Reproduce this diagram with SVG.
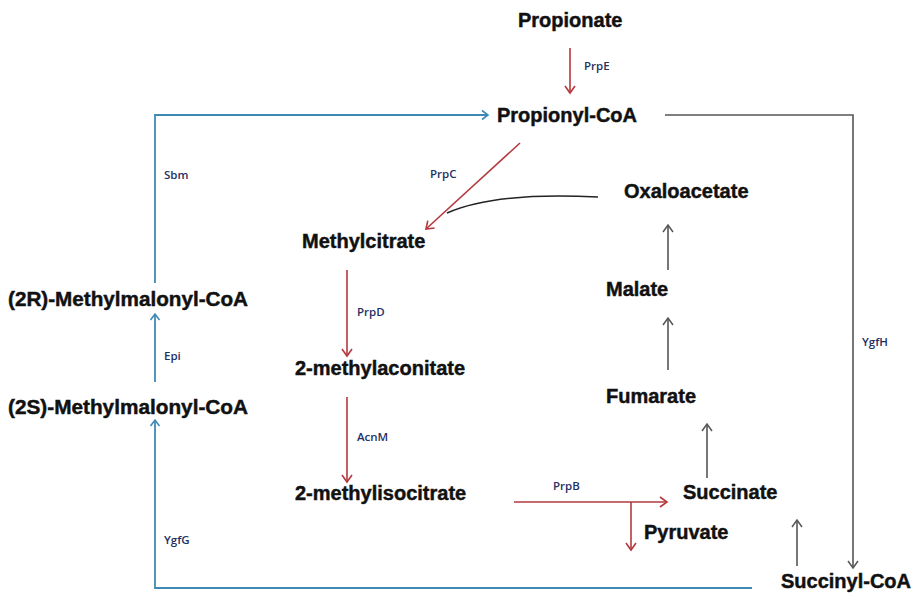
<svg xmlns="http://www.w3.org/2000/svg" width="914" height="594" viewBox="0 0 914 594">
  <style>
    .node { font-family: "Liberation Sans", Arial, sans-serif; font-weight: bold; font-size: 20px; fill: #111; stroke: #111; stroke-width: 0.45; }
    .enz { font-family: "Open Sans", "Liberation Sans", sans-serif; font-weight: 600; font-size: 11.5px; fill: #1f3064; }
    .red { fill: none; stroke: #b5393f; stroke-width: 1.6; }
    .blue { fill: none; stroke: #3f8ab5; stroke-width: 1.8; }
    .gray { fill: none; stroke: #555; stroke-width: 1.6; }
    .blk { fill: none; stroke: #222; stroke-width: 1.5; }
  </style>
  <defs>
    <marker id="ah-red" markerUnits="userSpaceOnUse" markerWidth="12" markerHeight="12" refX="9" refY="6" orient="auto">
      <path d="M2,1 L9,6 L2,11" fill="none" stroke="#b5393f" stroke-width="1.6"/>
    </marker>
    <marker id="ah-blue" markerUnits="userSpaceOnUse" markerWidth="12" markerHeight="12" refX="9" refY="6" orient="auto">
      <path d="M3,1.5 L9,6 L3,10.5" fill="none" stroke="#3f8ab5" stroke-width="1.6"/>
    </marker>
    <marker id="ah-gray" markerUnits="userSpaceOnUse" markerWidth="12" markerHeight="12" refX="9" refY="6" orient="auto">
      <path d="M2,1 L9,6 L2,11" fill="none" stroke="#555" stroke-width="1.5"/>
    </marker>
  </defs>
  <rect width="914" height="594" fill="#fff"/>

  <g id="connectors">
    <!-- methylcitrate cycle (red) -->
    <line class="red" x1="570" y1="48" x2="570" y2="93" marker-end="url(#ah-red)"/>
    <line class="red" x1="520" y1="143" x2="426" y2="229" marker-end="url(#ah-red)"/>
    <line class="red" x1="347" y1="270" x2="347" y2="356" marker-end="url(#ah-red)"/>
    <line class="red" x1="347" y1="397" x2="347" y2="482" marker-end="url(#ah-red)"/>
    <line class="red" x1="514" y1="502" x2="667" y2="502" marker-end="url(#ah-red)"/>
    <line class="red" x1="631" y1="502" x2="631" y2="550" marker-end="url(#ah-red)"/>
    <!-- oxaloacetate joins at methylcitrate synthase -->
    <path class="blk" d="M598,197 C540,194 485,196 447,213"/>
    <!-- TCA steps (gray) -->
    <line class="gray" x1="668" y1="270" x2="668" y2="225" marker-end="url(#ah-gray)"/>
    <line class="gray" x1="668" y1="370" x2="668" y2="318" marker-end="url(#ah-gray)"/>
    <line class="gray" x1="707" y1="478" x2="707" y2="424" marker-end="url(#ah-gray)"/>
    <line class="gray" x1="797" y1="566" x2="797" y2="520" marker-end="url(#ah-gray)"/>
    <path class="gray" d="M665,115 H853 V568" marker-end="url(#ah-gray)"/>
    <!-- methylmalonyl-CoA pathway (blue) -->
    <path class="blue" d="M155,283 V115 H488" marker-end="url(#ah-blue)"/>
    <line class="blue" x1="155" y1="382" x2="155" y2="314" marker-end="url(#ah-blue)"/>
    <path class="blue" d="M752,588 H155 V420" marker-end="url(#ah-blue)"/>
  </g>

  <g id="enzymes">
    <text class="enz" x="584" y="70">PrpE</text>
    <text class="enz" x="430" y="178">PrpC</text>
    <text class="enz" x="357" y="316">PrpD</text>
    <text class="enz" x="357" y="441">AcnM</text>
    <text class="enz" x="553" y="490">PrpB</text>
    <text class="enz" x="164" y="179">Sbm</text>
    <text class="enz" x="164" y="360">Epi</text>
    <text class="enz" x="164" y="544">YgfG</text>
    <text class="enz" x="862" y="346">YgfH</text>
  </g>

  <g id="propionate"><text class="node" x="518" y="27">Propionate</text></g>
  <g id="propionyl-coa"><text class="node" x="497" y="122">Propionyl-CoA</text></g>
  <g id="oxaloacetate"><text class="node" x="624" y="198">Oxaloacetate</text></g>
  <g id="methylcitrate"><text class="node" x="302" y="248">Methylcitrate</text></g>
  <g id="malate"><text class="node" x="606" y="296">Malate</text></g>
  <g id="r-methylmalonyl-coa"><text class="node" x="8" y="306" textLength="240" lengthAdjust="spacingAndGlyphs">(2R)-Methylmalonyl-CoA</text></g>
  <g id="methylaconitate"><text class="node" x="295" y="375">2-methylaconitate</text></g>
  <g id="fumarate"><text class="node" x="606" y="403">Fumarate</text></g>
  <g id="s-methylmalonyl-coa"><text class="node" x="8" y="414" textLength="240" lengthAdjust="spacingAndGlyphs">(2S)-Methylmalonyl-CoA</text></g>
  <g id="methylisocitrate"><text class="node" x="295" y="500">2-methylisocitrate</text></g>
  <g id="succinate"><text class="node" x="683" y="499">Succinate</text></g>
  <g id="pyruvate"><text class="node" x="644" y="539">Pyruvate</text></g>
  <g id="succinyl-coa"><text class="node" x="781" y="588">Succinyl-CoA</text></g>
</svg>
